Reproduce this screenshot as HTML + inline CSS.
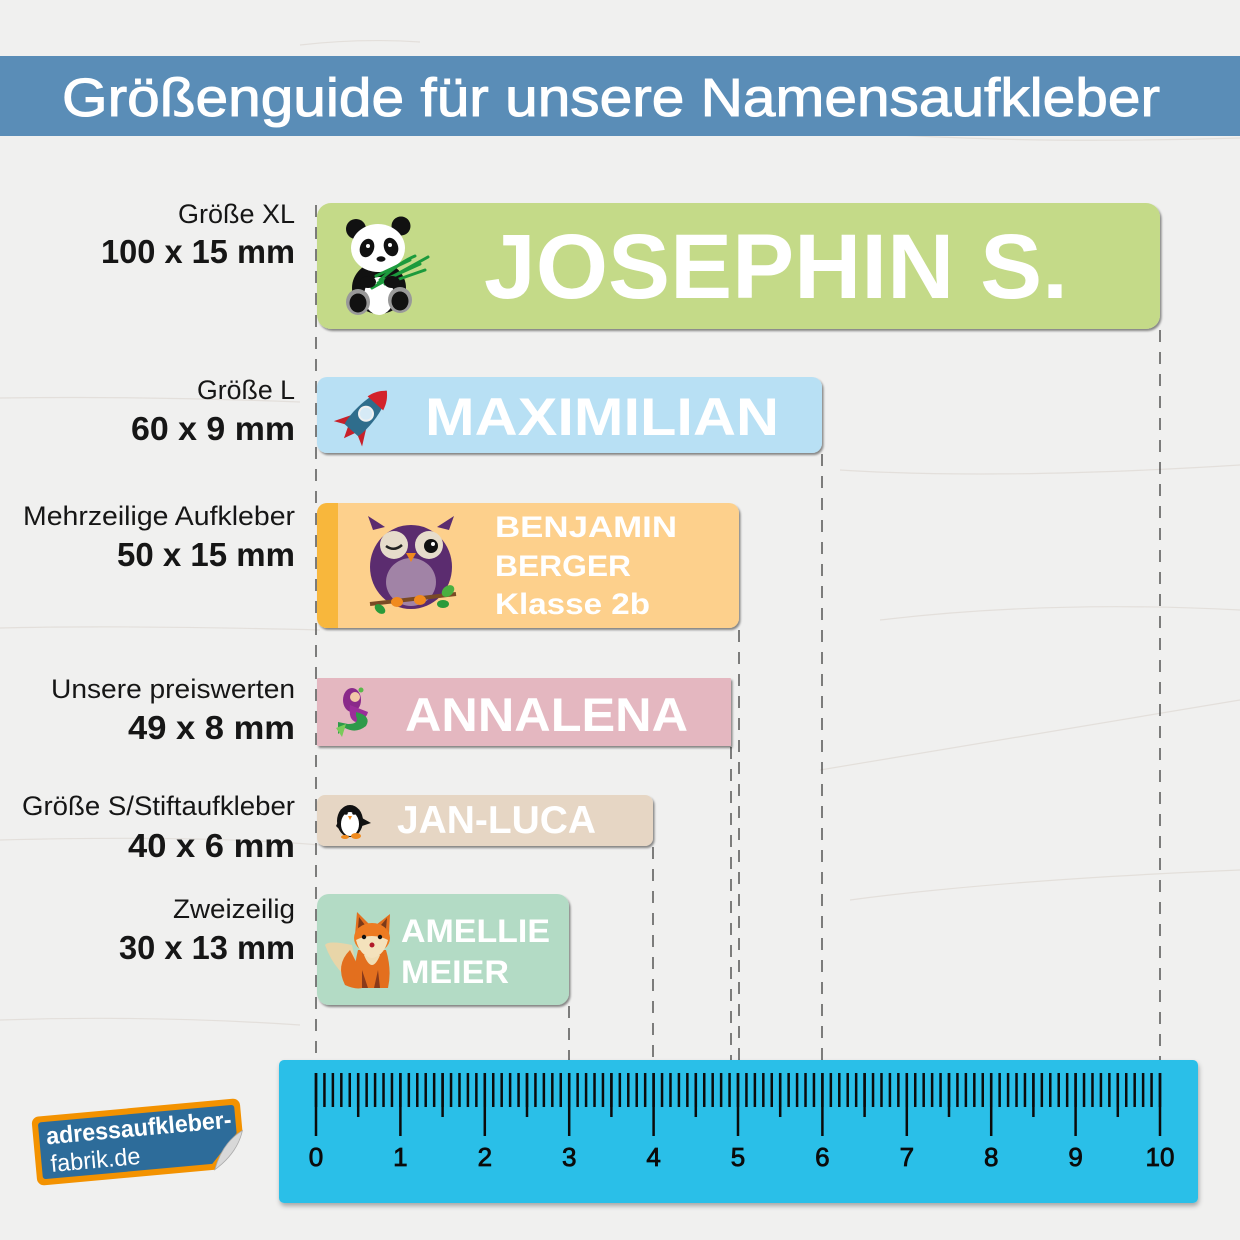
<!DOCTYPE html>
<html><head><meta charset="utf-8"><style>
html,body{margin:0;padding:0;background:#f0f0ef;}
svg{display:block;}
text{font-family:"Liberation Sans",sans-serif;}
</style></head><body>
<svg width="1240" height="1240" viewBox="0 0 1240 1240" xmlns="http://www.w3.org/2000/svg">
<defs>
<filter id="sh" x="-5%" y="-10%" width="110%" height="130%"><feDropShadow dx="1.5" dy="2" stdDeviation="1" flood-color="#000" flood-opacity="0.45"/></filter>
<filter id="sh2" x="-5%" y="-10%" width="110%" height="130%"><feDropShadow dx="1" dy="3" stdDeviation="2.5" flood-color="#000" flood-opacity="0.3"/></filter>
</defs>
<!-- background -->
<rect width="1240" height="1240" fill="#f0f0ef"/>
<g stroke="#d9d2ca" stroke-width="1.2" opacity="0.55" fill="none">
<path d="M0 398 Q150 396 300 402"/><path d="M0 628 Q120 625 320 630"/><path d="M830 130 Q1000 145 1240 138"/>
<path d="M0 840 Q200 835 320 845"/><path d="M880 620 Q1050 600 1240 610"/><path d="M820 770 Q1000 740 1240 700"/>
<path d="M300 45 Q360 38 420 42"/><path d="M0 1020 Q150 1015 300 1025"/><path d="M840 470 Q1000 480 1240 465"/>
<path d="M850 900 Q1000 880 1240 870"/>
</g>
<!-- header -->
<rect x="0" y="56" width="1240" height="80" fill="#5a8db7"/>
<text x="62" y="116" font-size="54" fill="#fff" stroke="#fff" stroke-width="1" textLength="1098" lengthAdjust="spacingAndGlyphs">Größenguide für unsere Namensaufkleber</text>

<!-- dashed guide lines -->
<g stroke="#4a4a4a" stroke-width="1.4" stroke-dasharray="12 10" fill="none">
<line x1="316" y1="205" x2="316" y2="1060"/>
<line x1="1160" y1="330" x2="1160" y2="1060"/>
<line x1="822" y1="454" x2="822" y2="1060"/>
<line x1="739" y1="630" x2="739" y2="1060"/>
<line x1="731" y1="747" x2="731" y2="1060"/>
<line x1="653" y1="847" x2="653" y2="1060"/>
<line x1="569" y1="1006" x2="569" y2="1060"/>
</g>

<!-- labels -->
<g fill="#161616">
<text x="178" y="223" font-size="27" textLength="117" lengthAdjust="spacingAndGlyphs">Größe XL</text>
<text x="101" y="263" font-size="33" font-weight="bold" textLength="194" lengthAdjust="spacingAndGlyphs">100 x 15 mm</text>
<text x="197" y="399" font-size="27" textLength="98" lengthAdjust="spacingAndGlyphs">Größe L</text>
<text x="131" y="440" font-size="33" font-weight="bold" textLength="164" lengthAdjust="spacingAndGlyphs">60 x 9 mm</text>
<text x="23" y="525" font-size="27" textLength="272" lengthAdjust="spacingAndGlyphs">Mehrzeilige Aufkleber</text>
<text x="117" y="566" font-size="33" font-weight="bold" textLength="178" lengthAdjust="spacingAndGlyphs">50 x 15 mm</text>
<text x="51" y="698" font-size="27" textLength="244" lengthAdjust="spacingAndGlyphs">Unsere preiswerten</text>
<text x="128" y="739" font-size="33" font-weight="bold" textLength="167" lengthAdjust="spacingAndGlyphs">49 x 8 mm</text>
<text x="22" y="815" font-size="27" textLength="273" lengthAdjust="spacingAndGlyphs">Größe S/Stiftaufkleber</text>
<text x="128" y="857" font-size="33" font-weight="bold" textLength="167" lengthAdjust="spacingAndGlyphs">40 x 6 mm</text>
<text x="173" y="918" font-size="27" textLength="122" lengthAdjust="spacingAndGlyphs">Zweizeilig</text>
<text x="119" y="959" font-size="33" font-weight="bold" textLength="176" lengthAdjust="spacingAndGlyphs">30 x 13 mm</text>
</g>

<!-- stickers -->
<rect x="317" y="203" width="843" height="126" rx="14" fill="#c4da88" filter="url(#sh)"/>
<rect x="317" y="377" width="505" height="76" rx="10" fill="#b8e0f4" filter="url(#sh)"/>
<g filter="url(#sh)">
<rect x="317" y="503" width="422" height="125" rx="10" fill="#fdd08c"/>
</g>
<path d="M327 503 H338 V628 H327 A10 10 0 0 1 317 618 V513 A10 10 0 0 1 327 503 Z" fill="#f8b73c"/>
<rect x="317" y="678" width="414" height="68" rx="1" fill="#e4b7c0" filter="url(#sh)"/>
<rect x="317" y="795" width="336" height="51" rx="8" fill="#e6d6c4" filter="url(#sh)"/>
<rect x="317" y="894" width="252" height="111" rx="12" fill="#b3dbc5" filter="url(#sh)"/>

<!-- sticker texts -->
<g fill="#fff" font-weight="bold">
<text x="484" y="298" font-size="92" textLength="584" lengthAdjust="spacingAndGlyphs">JOSEPHIN S.</text>
<text x="425" y="435" font-size="53" textLength="354" lengthAdjust="spacingAndGlyphs">MAXIMILIAN</text>
<text x="495" y="537" font-size="30" textLength="182" lengthAdjust="spacingAndGlyphs">BENJAMIN</text>
<text x="495" y="576" font-size="30" textLength="136" lengthAdjust="spacingAndGlyphs">BERGER</text>
<text x="495" y="614" font-size="30" textLength="155" lengthAdjust="spacingAndGlyphs">Klasse 2b</text>
<text x="405" y="731" font-size="47" textLength="283" lengthAdjust="spacingAndGlyphs">ANNALENA</text>
<text x="397" y="833" font-size="39" textLength="199" lengthAdjust="spacingAndGlyphs">JAN-LUCA</text>
<text x="401" y="942" font-size="32" textLength="149" lengthAdjust="spacingAndGlyphs">AMELLIE</text>
<text x="401" y="983" font-size="32" textLength="108" lengthAdjust="spacingAndGlyphs">MEIER</text>
</g>

<!-- panda -->
<g>
<circle cx="356" cy="229" r="10" fill="#111"/>
<circle cx="401" cy="226" r="9.5" fill="#111"/>
<ellipse cx="379" cy="288" rx="27" ry="26" fill="#111"/>
<ellipse cx="379" cy="296" rx="15" ry="19" fill="#fff"/>
<ellipse cx="378" cy="248" rx="27" ry="24" fill="#fff"/>
<ellipse cx="367" cy="248" rx="7" ry="9.5" fill="#111" transform="rotate(20 367 248)"/>
<ellipse cx="391" cy="247" rx="7" ry="9.5" fill="#111" transform="rotate(-20 391 247)"/>
<circle cx="368" cy="246" r="2" fill="#fff"/>
<circle cx="390" cy="245" r="2" fill="#fff"/>
<ellipse cx="381" cy="259" rx="4.5" ry="2.7" fill="#111"/>
<ellipse cx="358" cy="302" rx="12" ry="13" fill="#999"/>
<ellipse cx="358" cy="303" rx="8.5" ry="9.5" fill="#111"/>
<ellipse cx="400" cy="300" rx="12" ry="13" fill="#999"/>
<ellipse cx="400" cy="301" rx="8.5" ry="9.5" fill="#111"/>
<g stroke="#1c9a3c" stroke-width="3" stroke-linecap="round" fill="none">
<path d="M372 288 L428 257"/><path d="M378 283 L420 264"/><path d="M380 280 Q400 262 415 256"/>
<path d="M385 284 L425 270"/><path d="M376 276 L410 260"/>
</g>
<ellipse cx="368" cy="282" rx="8" ry="6" fill="#111"/>
<ellipse cx="392" cy="282" rx="8" ry="6" fill="#111"/>
</g>

<!-- rocket -->
<g transform="translate(364 416) rotate(42)">
<path d="M-9 6 L-19 24 L-7 18Z" fill="#c8202a"/>
<path d="M9 6 L19 24 L7 18Z" fill="#c8202a"/>
<path d="M-5 18 L0 30 L5 18Z" fill="#c8202a"/>
<path d="M0 -34 C12 -22 12 10 9 19 L-9 19 C-12 10 -12 -22 0 -34Z" fill="#2f6d8c"/>
<path d="M0 -34 C7 -28 9 -22 10.5 -17 L-10.5 -17 C-9 -22 -7 -28 0 -34Z" fill="#d3222a"/>
<circle cx="0" cy="-3" r="7" fill="#d6eaf6" stroke="#f0f0f0" stroke-width="2"/>
</g>

<!-- owl -->
<g>
<path d="M373 530 L368 516 L385 527Z" fill="#5b2c6f"/>
<path d="M449 530 L454 516 L437 527Z" fill="#5b2c6f"/>
<ellipse cx="411" cy="567" rx="41" ry="42" fill="#5b2c6f"/>
<ellipse cx="411" cy="582" rx="25" ry="24" fill="#a183a6"/>
<circle cx="394" cy="545" r="14" fill="#e6dccb"/>
<circle cx="429" cy="545" r="14" fill="#e6dccb"/>
<path d="M386 546 Q394 552 402 545" stroke="#222" stroke-width="2.5" fill="none"/>
<circle cx="431" cy="546" r="7" fill="#111"/>
<circle cx="433" cy="544" r="2" fill="#fff"/>
<path d="M406 553 L416 553 L411 562Z" fill="#f08a1e"/>
<path d="M370 604 L456 594" stroke="#7a4a25" stroke-width="4"/>
<ellipse cx="397" cy="602" rx="6" ry="5" fill="#f08a1e"/>
<ellipse cx="420" cy="600" rx="6" ry="5" fill="#f08a1e"/>
<ellipse cx="380" cy="609" rx="6" ry="4" fill="#2a9a3a" transform="rotate(40 380 609)"/>
<ellipse cx="448" cy="591" rx="7" ry="5" fill="#4ab040" transform="rotate(-40 448 591)"/>
<ellipse cx="443" cy="604" rx="6" ry="4" fill="#2a9a3a"/>
</g>

<!-- mermaid -->
<g>
<ellipse cx="352" cy="700" rx="9" ry="12" fill="#8a2a8a"/>
<circle cx="355" cy="697" r="5" fill="#f2c8a8"/>
<path d="M350 705 Q348 720 356 722 Q366 720 368 712" fill="#9a2e9a"/>
<path d="M356 712 Q372 716 366 726 Q356 734 345 728 L338 734 L338 722 L348 724 Q360 724 356 716Z" fill="#2e9a4a"/>
<path d="M336 728 L346 724 L342 737Z" fill="#7acb5a"/>
<circle cx="361" cy="690" r="2.5" fill="#5ab84a"/>
</g>

<!-- penguin -->
<g>
<ellipse cx="350" cy="821" rx="13" ry="16" fill="#111"/>
<ellipse cx="350" cy="824" rx="9" ry="12" fill="#fff"/>
<circle cx="346" cy="813" r="1.8" fill="#111"/>
<circle cx="354" cy="813" r="1.8" fill="#111"/>
<path d="M348 816 L352 816 L350 820Z" fill="#f08a1e"/>
<path d="M362 818 L371 823 L362 826Z" fill="#111"/>
<path d="M336 826 L340 818 L340 830Z" fill="#111"/>
<ellipse cx="345" cy="837" rx="4" ry="2" fill="#f08a1e"/>
<ellipse cx="356" cy="836" rx="5" ry="3" fill="#f08a1e"/>
</g>

<!-- fox -->
<g>
<path d="M352 945 Q328 940 325 945 Q336 975 360 985Z" fill="#e8d5a8"/>
<path d="M350 950 Q335 965 345 985 Q360 992 368 985Z" fill="#e36f1e"/>
<path d="M358 950 Q352 975 356 988 L388 988 Q392 970 386 950Z" fill="#e36f1e"/>
<path d="M364 955 Q372 975 380 955Z" fill="#f0ddb4"/>
<path d="M362 970 L368 988 L362 988Z" fill="#8a3a1a"/>
<path d="M378 970 L380 988 L374 988Z" fill="#8a3a1a"/>
<path d="M355 935 L357 912 L370 925Z" fill="#e36f1e"/>
<path d="M389 935 L390 914 L376 925Z" fill="#e36f1e"/>
<path d="M358 928 L359 917 L365 925Z" fill="#7a3a1a"/>
<path d="M386 929 L387 918 L381 925Z" fill="#7a3a1a"/>
<ellipse cx="372" cy="938" rx="18" ry="15" fill="#ed7b22"/>
<path d="M356 940 Q372 932 388 940 Q384 956 372 958 Q360 956 356 940Z" fill="#f4e2bc"/>
<circle cx="364" cy="937" r="2.2" fill="#111"/>
<circle cx="380" cy="937" r="2.2" fill="#111"/>
<circle cx="372" cy="945" r="2.5" fill="#b11a2a"/>
</g>

<!-- ruler -->
<rect x="279" y="1060" width="919" height="143" rx="5" fill="#2bbfe8" filter="url(#sh2)"/>
<g stroke="#0b0b0b" fill="none">
<line x1="314.75" y1="1090" x2="1162" y2="1090" stroke-width="34" stroke-dasharray="2.5 5.94"/>
<line x1="356.95" y1="1095" x2="1162" y2="1095" stroke-width="44" stroke-dasharray="2.5 81.9"/>
<line x1="314.75" y1="1104.5" x2="1163" y2="1104.5" stroke-width="63" stroke-dasharray="2.5 81.9"/>
</g>
<g font-size="26" fill="#0b0b0b" text-anchor="middle" stroke="#0b0b0b" stroke-width="0.8">
<text x="316" y="1166">0</text>
<text x="400.4" y="1166">1</text>
<text x="484.8" y="1166">2</text>
<text x="569.2" y="1166">3</text>
<text x="653.6" y="1166">4</text>
<text x="738" y="1166">5</text>
<text x="822.4" y="1166">6</text>
<text x="906.8" y="1166">7</text>
<text x="991.2" y="1166">8</text>
<text x="1075.6" y="1166">9</text>
<text x="1160" y="1166">10</text>
</g>

<!-- logo -->
<g transform="rotate(-5.2 138.5 1142)">
<path d="M41 1107.5 H236 A7 7 0 0 1 243 1114.5 V1140 L212 1176.5 H41 A7 7 0 0 1 34 1169.5 V1114.5 A7 7 0 0 1 41 1107.5Z" fill="#f39200"/>
<path d="M43 1113.5 H234 A3 3 0 0 1 237 1116.5 V1142 L210 1170.5 H43 A3 3 0 0 1 40 1167.5 V1116.5 A3 3 0 0 1 43 1113.5Z" fill="#2d6c9a"/>
<path d="M212 1176.5 Q222 1150 243 1140 Q236 1162 212 1176.5Z" fill="#d8d8d8" stroke="#aaa" stroke-width="0.8"/>
<text x="47" y="1136" font-size="24" font-weight="bold" fill="#fff" textLength="186" lengthAdjust="spacingAndGlyphs">adressaufkleber-</text>
<text x="49" y="1164" font-size="24" fill="#fff" textLength="90" lengthAdjust="spacingAndGlyphs">fabrik.de</text>
</g>
</svg>
</body></html>
